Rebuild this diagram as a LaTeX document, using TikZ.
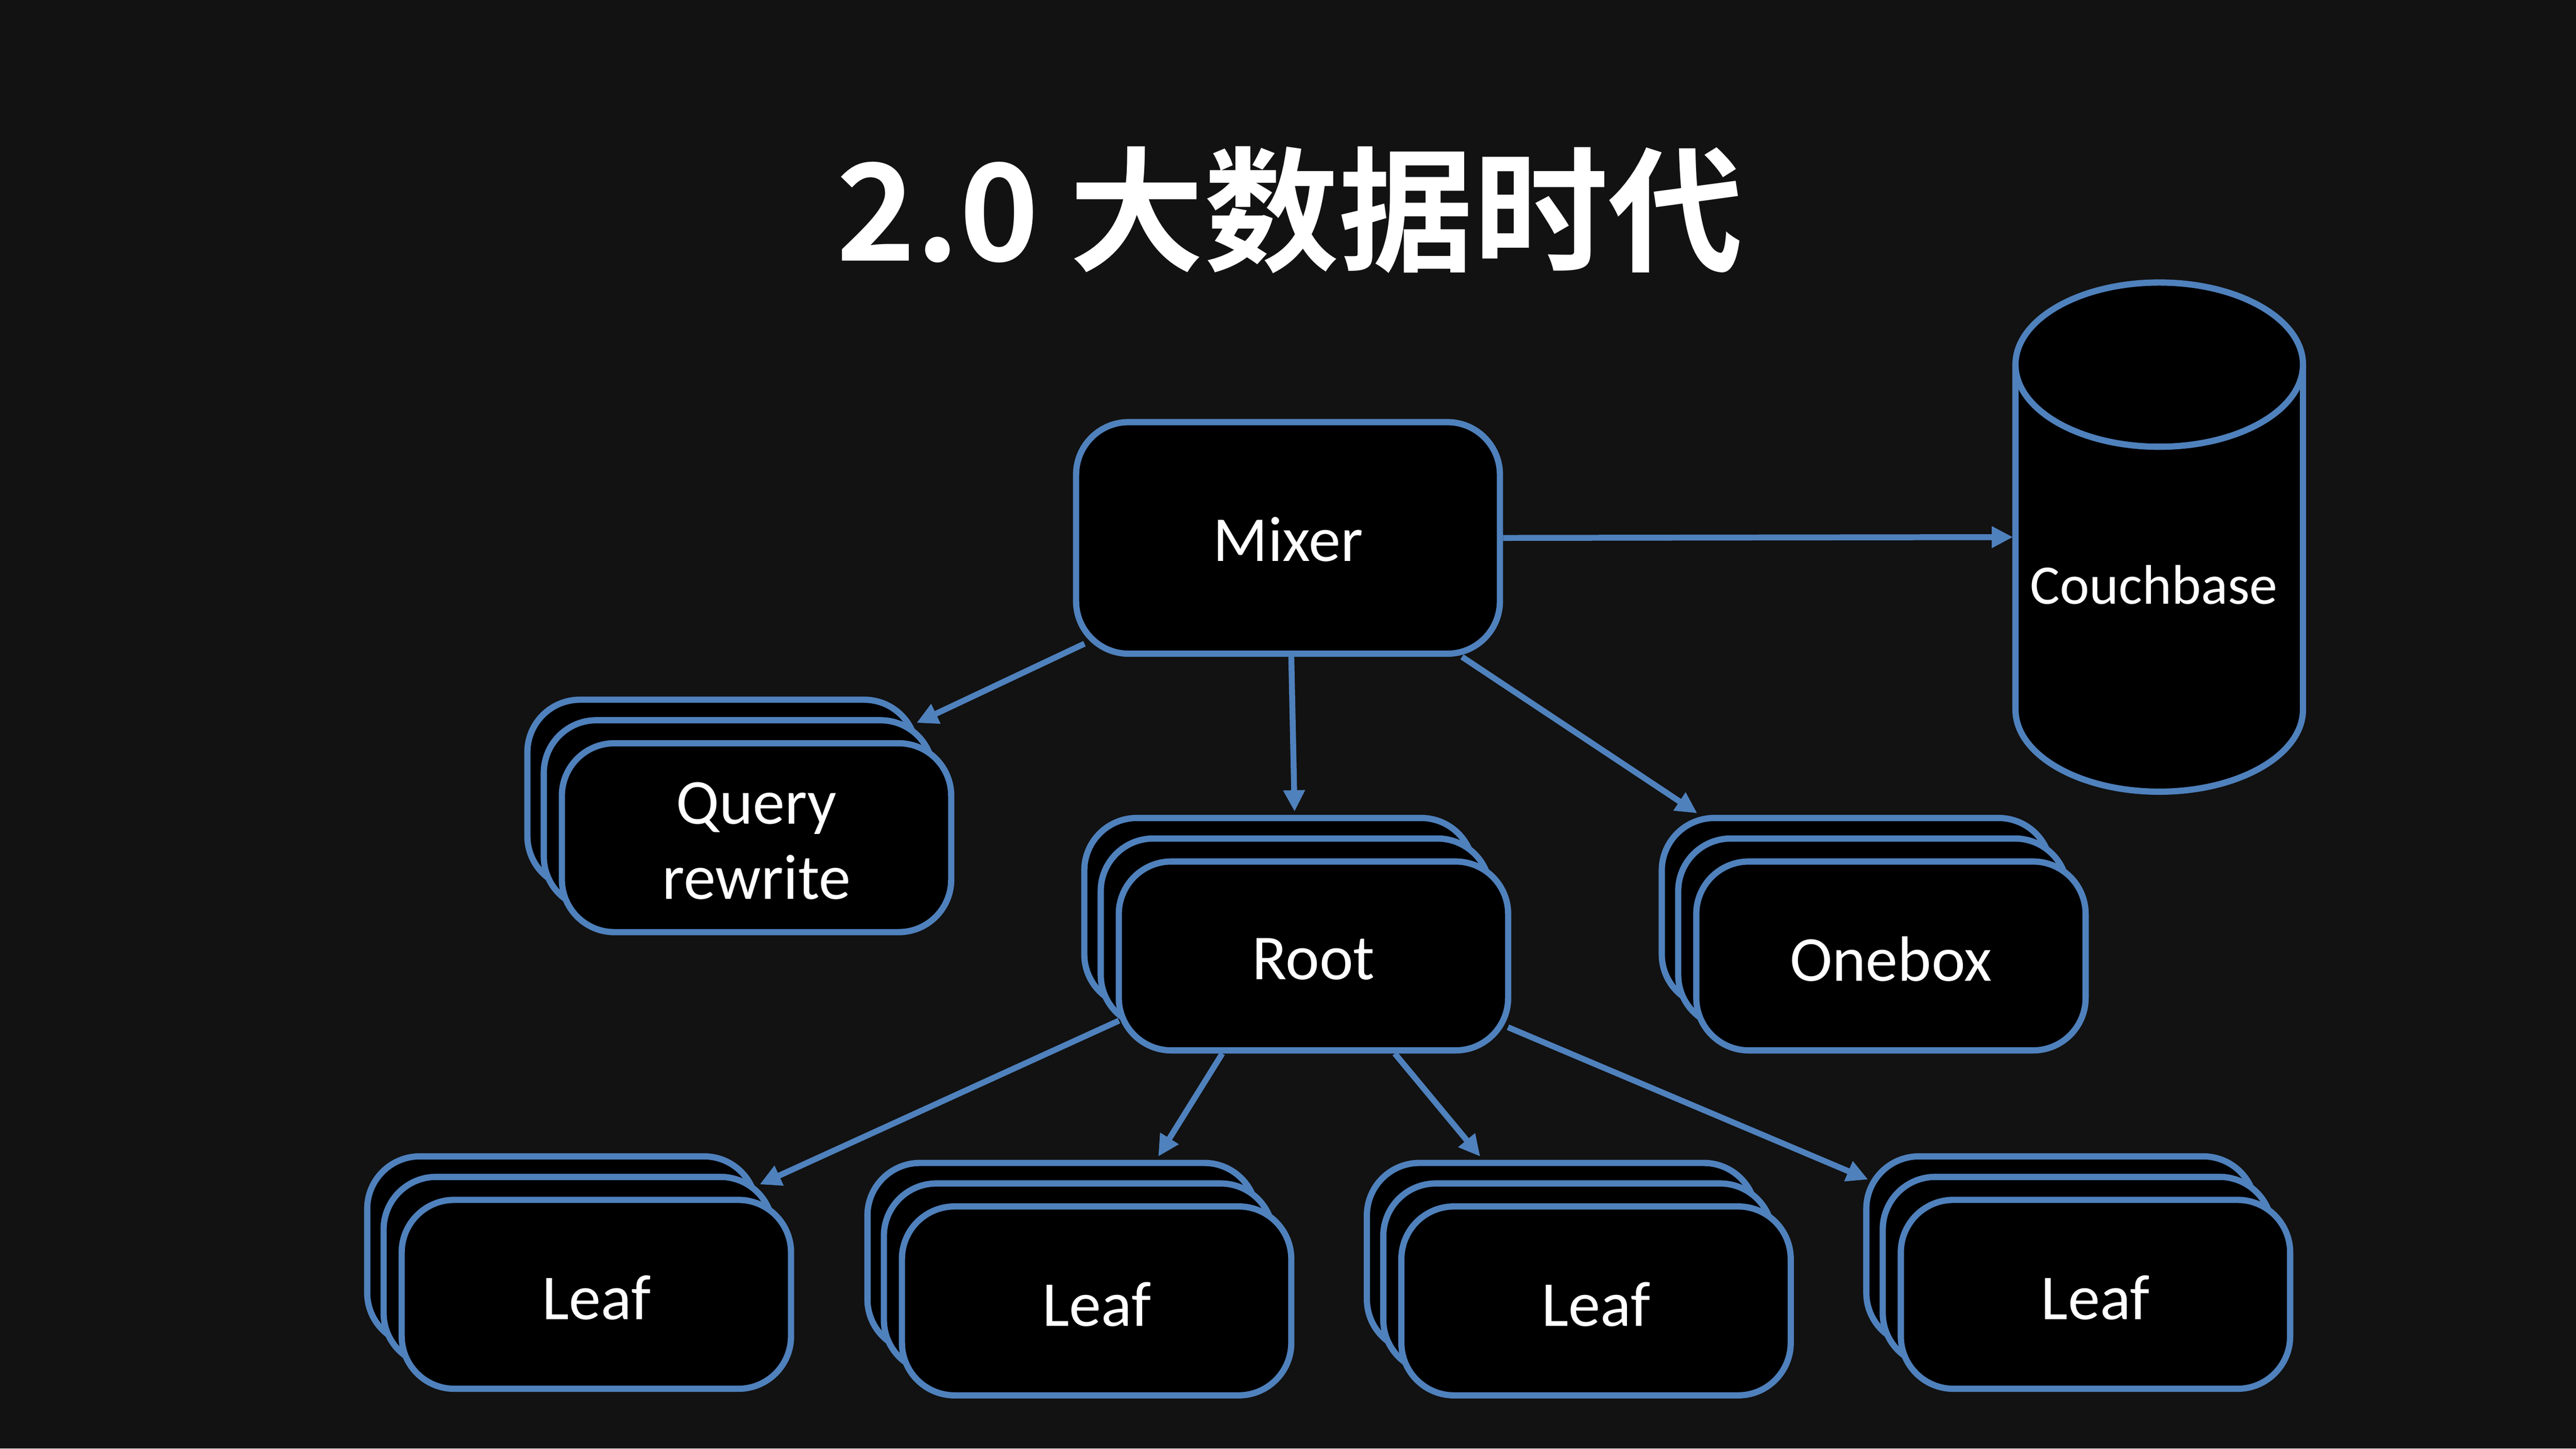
\documentclass[tikz,border=0pt]{standalone}
\usepackage{fontspec}
\setmainfont{Carlito}
\newfontfamily\cjk{Noto Sans CJK SC}[BoldFont={Noto Sans CJK SC Bold}]
\usetikzlibrary{arrows.meta,calc}
\definecolor{bg}{HTML}{121212}
\definecolor{ob}{HTML}{4F81BD}
\tikzset{
  box/.style={draw=ob, fill=black, line width=3.8pt, rounded corners=32pt,
    minimum width=237pt, minimum height=115pt, inner sep=0pt, text=white,
    font=\fontsize{39}{46}\selectfont, align=center},
  arr/.style={draw=ob, line width=3.6pt, -{Triangle[length=13pt,width=12.5pt]}},
  lbl/.style={text=white, inner sep=0pt},
  boxtext/.style={lbl, font=\fontsize{39}{46}\selectfont, align=center},
}
\newcommand\stackbox[4]{%
  \node[box] (#1b) at (#2,#3) {};
  \node[box] (#1m) at (#2+10,#3-12.5) {};
  \node[box] (#1) at (#2+21,#3-26.5) {};
  \node[boxtext] (#1t) at ($(#1)+(0,-2)$) {#4};
}
\begin{document}
\begin{tikzpicture}[x=1pt,y=1pt]
\fill[bg] (0,0) rectangle (1568,882);
\useasboundingbox (0,0) rectangle (1568,882);

% title
\node[lbl, font=\cjk\bfseries\fontsize{82}{90}\selectfont] (title) at (785,754) {2.0 大数据时代};

% mixer
\node[box, minimum width=258pt, minimum height=141pt] (mixer) at (784,554.5) {};
\node[boxtext] (mixert) at ($(mixer)+(0,-1)$) {Mixer};

% couchbase cylinder
\node[minimum width=175pt, minimum height=310pt, inner sep=0pt] (couch) at (1314.5,555) {};
\draw[draw=ob, fill=black, line width=3.8pt]
  ($(couch.west)+(0,105)$) -- ($(couch.west)+(0,-105)$)
  arc[start angle=180, end angle=360, x radius=87.5, y radius=50]
  -- ++(0,210)
  arc[start angle=0, end angle=180, x radius=87.5, y radius=50] -- cycle;
\draw[draw=ob, line width=3.8pt]
  ($(couch.west)+(0,105)$) arc[start angle=180, end angle=360, x radius=87.5, y radius=50];
\node[lbl, font=\fontsize{34}{40}\selectfont] (couchlbl) at (1311,526) {Couchbase};

% stacks
\stackbox{qr}{439.5}{398.5}{Query\\rewrite}
\stackbox{root}{778.5}{326.5}{Root}
\stackbox{one}{1130}{326.5}{Onebox}
\stackbox{la}{342}{120.5}{Leaf}
\stackbox{lb}{646.5}{116.5}{Leaf}
\stackbox{lc}{950.5}{116.5}{Leaf}
\stackbox{ld}{1254.5}{120.5}{Leaf}

% connectors
\draw[arr, shorten >=1.5pt] (mixer.east) -- (couch.west);
\draw[arr] ($(mixer.south west)+(7,8)$) -- ($(qrb.north east)+(-2,-16)$);
\draw[arr] ($(mixer.south)+(2,0)$) -- ($(rootb.north)+(9.5,2)$);
\draw[arr] ($(mixer.south east)+(-25,0)$) -- ($(oneb.north west)+(23.5,1)$);
\draw[arr] ($(root.south west)+(2,20)$) -- ($(lab.north east)+(0,-19)$);
\draw[arr] ($(root.south)+(-55.5,0)$) -- ($(lbb.north)+(58.5,2)$);
\draw[arr] ($(root.south)+(49.5,0)$) -- ($(lcb.north)+(-49.5,2)$);
\draw[arr] ($(root.south east)+(-2,16)$) -- ($(ldb.north west)+(3,-16)$);
\end{tikzpicture}
\end{document}
